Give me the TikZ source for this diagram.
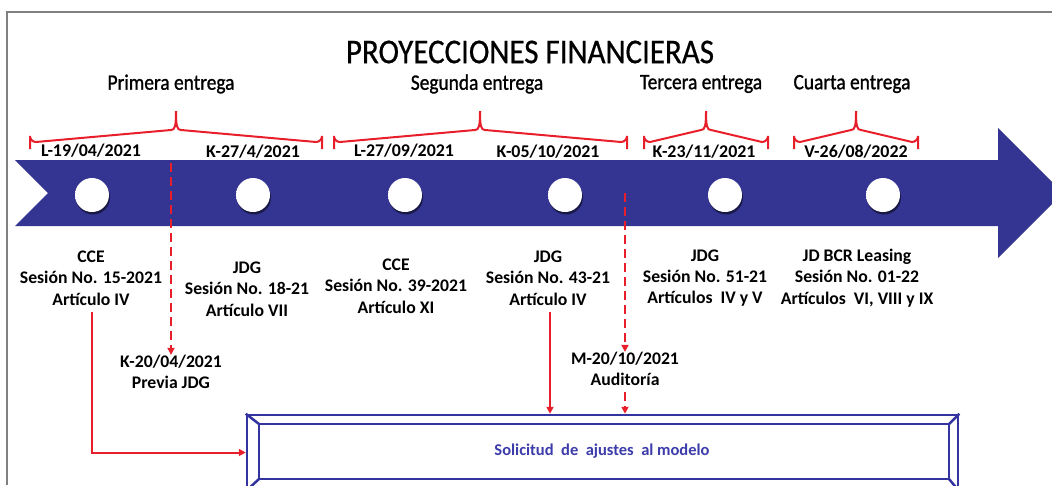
\documentclass[tikz,border=0pt]{standalone}
\usepackage{fontspec}
\setmainfont{Carlito}
\usetikzlibrary{arrows.meta,shadows}
\definecolor{bandblue}{RGB}{52,52,146}
\definecolor{boxblue}{RGB}{52,52,160}
\definecolor{txtblue}{RGB}{60,60,170}
\definecolor{myred}{RGB}{232,30,42}
\definecolor{framegray}{RGB}{128,128,128}
\pgfdeclareradialshading{pearlshade}{\pgfpoint{-9bp}{9bp}}{%
  color(0bp)=(white); color(34bp)=(white); color(48bp)=(black!18); color(62bp)=(black!45); color(80bp)=(black!55)}
\newcommand\entbrace[3]{%
  \draw[bracestyle] (#1,149) -- (#1,136) arc[start angle=180,end angle=90,radius=6] -- (#2-5,130)
    .. controls (#2-1,130) and (#2,126) .. (#2,111);
  \draw[bracestyle] (#3,149) -- (#3,136) arc[start angle=0,end angle=90,radius=6] -- (#2+5,130)
    .. controls (#2+1,130) and (#2,126) .. (#2,111);
}
\begin{document}
\begin{tikzpicture}[x=1pt,y=-1pt,
  bracestyle/.style={draw=myred,line width=2pt},
  datelbl/.style={font=\fontsize{17.9}{21}\selectfont\bfseries,inner sep=0pt},
  info/.style={font=\fontsize{17.7}{21.3}\selectfont\bfseries,align=center,inner sep=0pt},
  entrega/.style={inner sep=0pt},
  pearl/.style={circle,minimum size=34pt,inner sep=0pt,shading=pearlshade,
     drop shadow={shadow xshift=1pt,shadow yshift=-2.5pt,opacity=0.5,fill=black}},
  redline/.style={draw=myred,line width=2pt,-{Triangle[width=7pt,length=7pt]}},
  reddash/.style={redline,dash pattern=on 9pt off 5pt},
]
\useasboundingbox (0,0) rectangle (1052,485);
\clip (0,0) rectangle (1052,485);
% frame
\draw[framegray,line width=2pt] (7,485) -- (7,12) -- (1052,12);
% title and delivery labels
\node[inner sep=0pt] (title) at (530,52) {\scalebox{1}[1.12]{\fontsize{31}{36}\selectfont\addfontfeature{FakeBold=0.6}PROYECCIONES FINANCIERAS}};
\node[entrega] (e1) at (171,84) {\scalebox{0.97}[1.1]{\fontsize{20}{24}\selectfont\addfontfeature{FakeBold=1.2}Primera entrega}};
\node[entrega] (e2) at (477,84) {\scalebox{0.97}[1.1]{\fontsize{20}{24}\selectfont\addfontfeature{FakeBold=1.2}Segunda entrega}};
\node[entrega] (e3) at (701,84) {\scalebox{0.97}[1.1]{\fontsize{20}{24}\selectfont\addfontfeature{FakeBold=1.2}Tercera entrega}};
\node[entrega] (e4) at (852,84) {\scalebox{0.97}[1.1]{\fontsize{20}{24}\selectfont\addfontfeature{FakeBold=1.2}Cuarta entrega}};
% braces
\entbrace{30}{176}{322}
\entbrace{334}{480}{627}
\entbrace{644}{706}{768}
\entbrace{794}{856}{918}
% band arrow
\fill[bandblue] (15,160) -- (998,160) -- (998,128) -- (1063,193) -- (998,258) -- (998,226) -- (15,226) -- (48,193) -- cycle;
% pearls
\node[pearl] (p1) at (92,195) {};
\node[pearl] (p2) at (253,195) {};
\node[pearl] (p3) at (405,195) {};
\node[pearl] (p4) at (565,195) {};
\node[pearl] (p5) at (725,195) {};
\node[pearl] (p6) at (883,195) {};
% dates
\node[datelbl] (d1) at (91,151) {L-19/04/2021};
\node[datelbl] (d2) at (253,152) {K-27/4/2021};
\node[datelbl] (d3) at (404,151) {L-27/09/2021};
\node[datelbl] (d4) at (548,152) {K-05/10/2021};
\node[datelbl] (d5) at (704,152) {K-23/11/2021};
\node[datelbl] (d6) at (856,152) {V-26/08/2022};
% session info
\node[info] (cce15) at (91,278) {CCE\\Sesión No. 15-2021\\Artículo IV};
\node[info] (jdg18) at (247,289) {JDG\\Sesión No. 18-21\\Artículo VII};
\node[info] (cce39) at (396,286) {CCE\\Sesión No. 39-2021\\Artículo XI};
\node[info] (jdg43) at (548,278) {JDG\\Sesión No. 43-21\\Artículo IV};
\node[info] (jdg51) at (705,278) {JDG\\Sesión No. 51-21\\Artículos\ \ IV y V};
\node[info] (jdbcr) at (857,278) {JD BCR Leasing\\Sesión No. 01-22\\Artículos\ \ VI, VIII y IX};
\node[info] (prev) at (171,372) {K-20/04/2021\\Previa JDG};
\node[info] (aud) at (625,369) {M-20/10/2021\\Auditoría};
% bevel box
\node[draw=boxblue,line width=2.5pt,fill=white,minimum width=711pt,minimum height=75pt,inner sep=0pt] (box) at (602.5,452.5) {};
\draw[boxblue,line width=2.5pt] (259,424) rectangle (949,479);
\draw[boxblue,line width=2.5pt] (box.north west) -- (259,424) (box.north east) -- (949,424)
  (box.south west) -- (259,479) (box.south east) -- (949,479);
\node[font=\fontsize{16.5}{20}\selectfont\bfseries,text=txtblue,inner sep=0pt] (lbl) at (602,451) {Solicitud\ \ de\ \ ajustes\ \ al modelo};
% connectors
\coordinate (s1) at (171,163);
\coordinate (s2) at (625,193);
\draw[reddash] (s1) -- (prev.north);
\draw[reddash] (s2) -- (aud.north);
\draw[reddash,shorten <=6pt] (aud.south) -- (box.north -| aud.south);
\draw[redline,shorten <=7pt] (jdg43.south -| 550,0) -- (box.north -| 550,0);
\draw[redline,shorten <=7pt] (cce15.south -| 92,0) |- (box.west);
\end{tikzpicture}
\end{document}
